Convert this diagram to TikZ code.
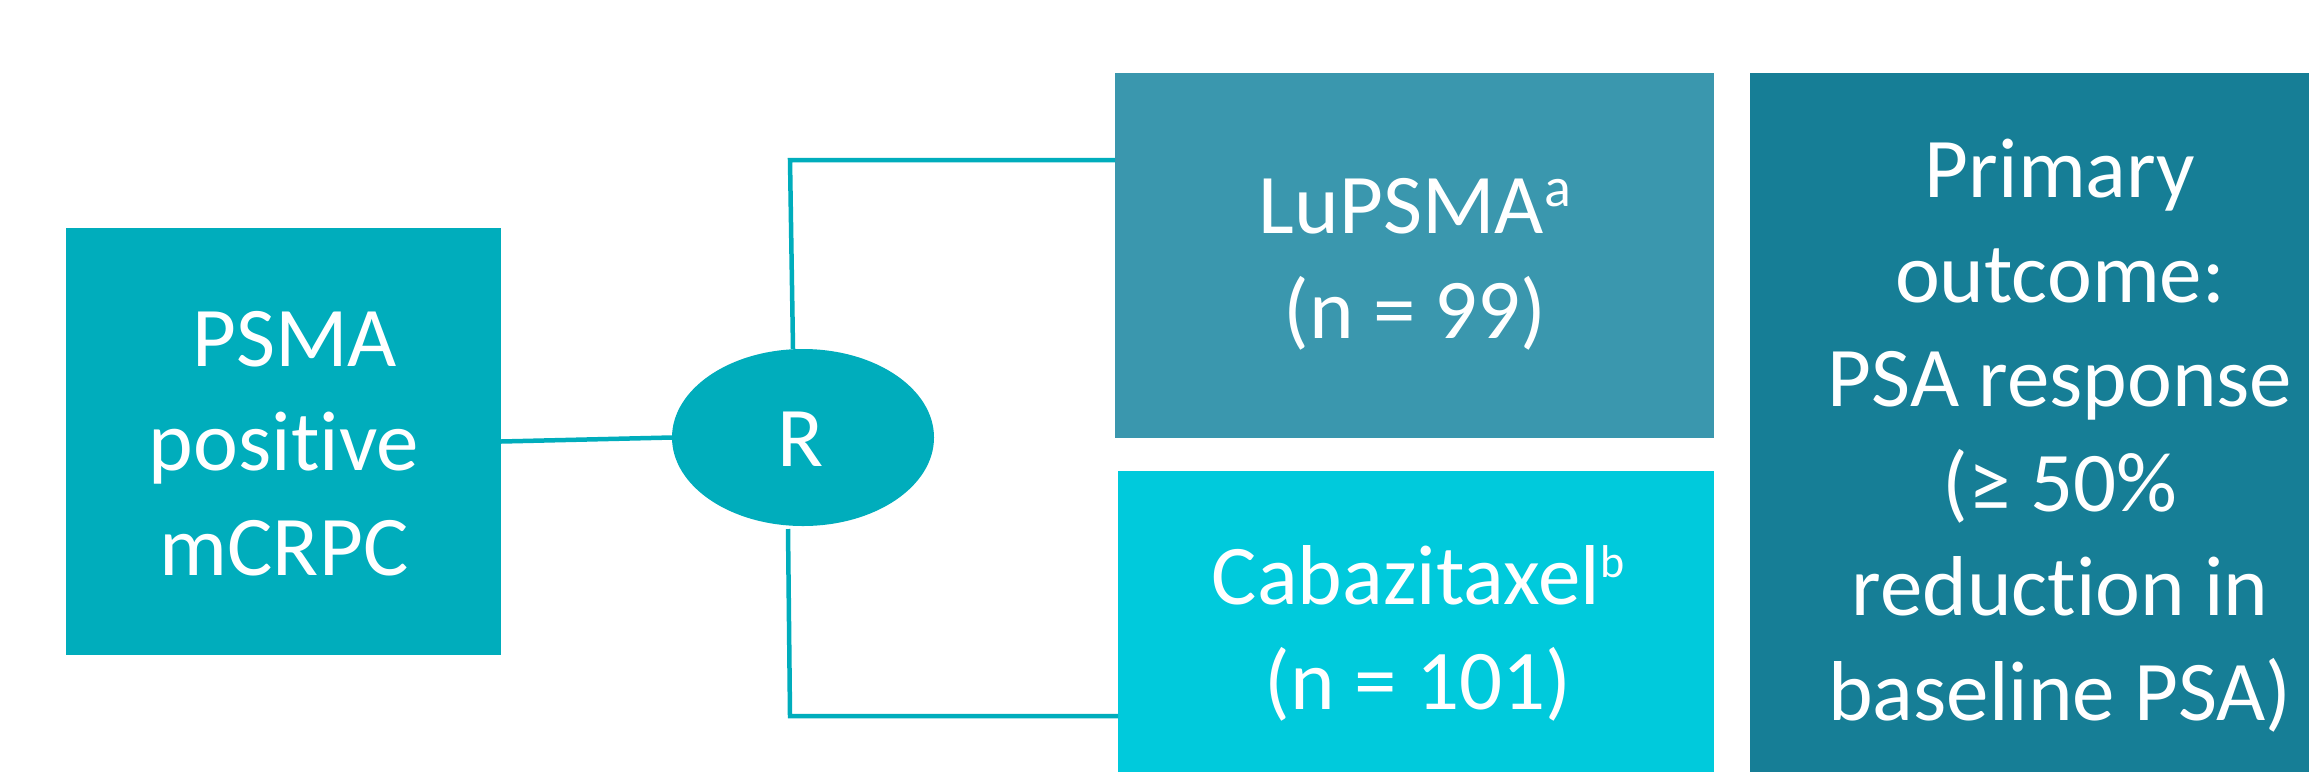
\documentclass[tikz,border=0pt]{standalone}
\usepackage{fontspec}
\setmainfont{Carlito}[Ligatures=NoCommon]
\usetikzlibrary{shapes.geometric}
\definecolor{cteal}{HTML}{00ADBC}
\definecolor{clu}{HTML}{3A97AE}
\definecolor{ccab}{HTML}{00CADC}
\definecolor{cprim}{HTML}{167E96}
\newcommand{\mysup}[3]{\raisebox{#2}{\fontsize{#1}{#1}\selectfont #3}}
\tikzset{
  boxshape/.style={rectangle, draw=none, inner sep=0pt, outer sep=0pt},
  lbl/.style={text=white, align=center, inner sep=0pt, outer sep=0pt, font=\fontsize{85}{104.5}\selectfont},
  conn/.style={draw=cteal, line width=4.5pt}
}
\begin{document}
\begin{tikzpicture}[x=1pt,y=-1pt]
\useasboundingbox[fill=white] (0,0) rectangle (2309,772);
% boxes
\node[boxshape, fill=cteal, minimum width=435pt, minimum height=427pt] (L) at (283.5,441.5) {};
\node[ellipse, draw=none, fill=cteal, inner sep=0pt, outer sep=0pt, minimum width=262pt, minimum height=177pt] (R) at (803,437.5) {};
\node[boxshape, fill=clu, minimum width=599pt, minimum height=365pt] (Lu) at (1414.5,255.5) {};
\node[boxshape, fill=ccab, minimum width=596pt, minimum height=301pt] (Cab) at (1416,621.5) {};
\node[boxshape, fill=cprim, minimum width=559pt, minimum height=699pt] (Prim) at (2029.5,422.5) {};
% labels
\node[lbl] (Ltext) at (284,443.5) {\hspace*{0.25em}PSMA\\positive\\mCRPC};
\node[lbl] (Rtext) at (801,439) {R};
\node[lbl] (Lutext) at (1415,264.5) {LuPSMA\mysup{56}{27pt}{a}\\(n = 99)};
\node[lbl] (Cabtext) at (1418,633.5) {Cabazitaxel\mysup{46}{27pt}{b}\\(n = 101)};
\node[lbl] (Primtext) at (2060,435.5) {Primary\\outcome:\\PSA response\\(≥ 50\%\\reduction in\\baseline PSA)};
% connectors
\coordinate (ta) at (790,160);
\coordinate (ba) at (790,716);
\draw[conn] (L.east) -- (R.west);
\draw[conn] ([xshift=-10pt]R.north) -- (ta) -- (ta -| Lu.west);
\draw[conn] ([xshift=-15pt,yshift=-3pt]R.south) -- (ba) -- (ba -| Cab.west);
\end{tikzpicture}
\end{document}
